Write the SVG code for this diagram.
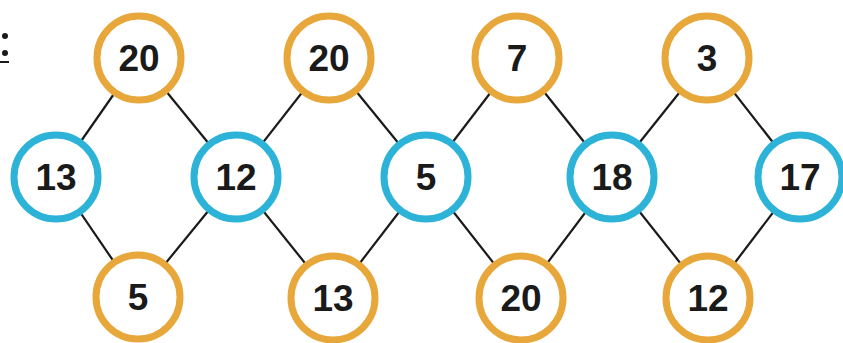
<svg xmlns="http://www.w3.org/2000/svg" width="843" height="343" viewBox="0 0 843 343">
<style>
.o{fill:#fff;stroke:#E8A73A;stroke-width:7}
.b{fill:#fff;stroke:#2DB3D8;stroke-width:7}
.t{font-family:"Liberation Sans",Arial,sans-serif;font-weight:bold;font-size:37px;fill:#1a1a1a;text-anchor:middle}
#edges line{stroke:#1a1a1a;stroke-width:2.2}
</style>
<rect width="843" height="343" fill="#fff"/>
<g id="label"><circle cx="5" cy="36" r="3" fill="#1a1a1a"/><circle cx="5" cy="53" r="3" fill="#1a1a1a"/><rect x="0" y="61" width="9" height="2" fill="#1a1a1a"/></g>
<g id="edges">
<line x1="139" y1="58" x2="56" y2="177"/>
<line x1="139" y1="58" x2="236" y2="177"/>
<line x1="329" y1="58" x2="236" y2="177"/>
<line x1="329" y1="58" x2="426" y2="177"/>
<line x1="517" y1="58" x2="426" y2="177"/>
<line x1="517" y1="58" x2="612" y2="177"/>
<line x1="707" y1="58" x2="612" y2="177"/>
<line x1="707" y1="58" x2="800" y2="177"/>
<line x1="138" y1="297" x2="56" y2="177"/>
<line x1="138" y1="297" x2="236" y2="177"/>
<line x1="333" y1="298" x2="236" y2="177"/>
<line x1="333" y1="298" x2="426" y2="177"/>
<line x1="521" y1="298" x2="426" y2="177"/>
<line x1="521" y1="298" x2="612" y2="177"/>
<line x1="708" y1="298" x2="612" y2="177"/>
<line x1="708" y1="298" x2="800" y2="177"/>
</g>
<g id="t1"><circle class="o" cx="139" cy="58" r="42"/><text class="t" x="139" y="71">20</text></g>
<g id="t2"><circle class="o" cx="329" cy="58" r="42"/><text class="t" x="329" y="71">20</text></g>
<g id="t3"><circle class="o" cx="517" cy="58" r="42"/><text class="t" x="517" y="71">7</text></g>
<g id="t4"><circle class="o" cx="707" cy="58" r="42"/><text class="t" x="707" y="71">3</text></g>
<g id="m1"><circle class="b" cx="56" cy="177" r="42"/><text class="t" x="56" y="190">13</text></g>
<g id="m2"><circle class="b" cx="236" cy="177" r="42"/><text class="t" x="236" y="190">12</text></g>
<g id="m3"><circle class="b" cx="426" cy="177" r="42"/><text class="t" x="426" y="190">5</text></g>
<g id="m4"><circle class="b" cx="612" cy="177" r="42"/><text class="t" x="612" y="190">18</text></g>
<g id="m5"><circle class="b" cx="800" cy="177" r="42"/><text class="t" x="800" y="190">17</text></g>
<g id="b1"><circle class="o" cx="138" cy="297" r="42"/><text class="t" x="138" y="310">5</text></g>
<g id="b2"><circle class="o" cx="333" cy="298" r="42"/><text class="t" x="333" y="311">13</text></g>
<g id="b3"><circle class="o" cx="521" cy="298" r="42"/><text class="t" x="521" y="311">20</text></g>
<g id="b4"><circle class="o" cx="708" cy="298" r="42"/><text class="t" x="708" y="311">12</text></g>
</svg>
